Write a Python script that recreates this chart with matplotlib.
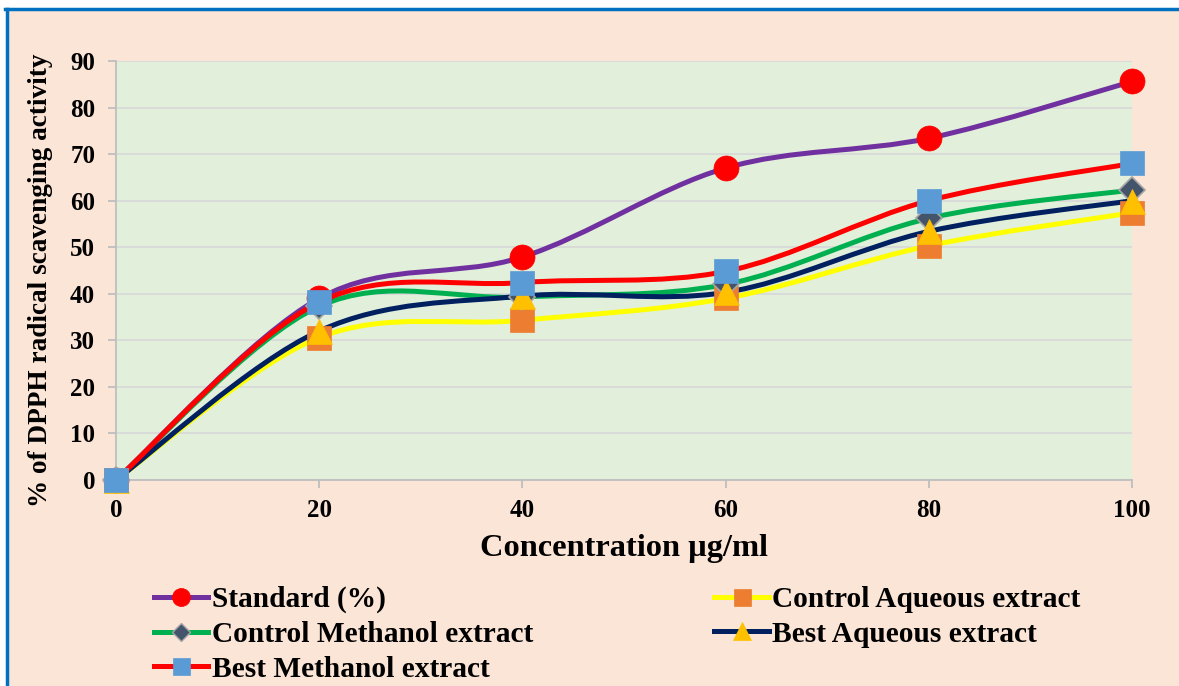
import matplotlib
matplotlib.use("Agg")
import matplotlib.pyplot as plt
from matplotlib.path import Path
from matplotlib.patches import PathPatch, Rectangle
from matplotlib.lines import Line2D
import numpy as np

concentration = [0, 20, 40, 60, 80, 100]
standard = [0, 39.0, 47.9, 67.0, 73.4, 85.6]
control_aqueous = [0, 30.6, 34.3, 39.0, 50.3, 57.4]
control_methanol = [0, 37.3, 39.3, 42.0, 56.2, 62.3]
best_aqueous = [0, 32.0, 39.5, 40.3, 53.4, 60.0]
best_methanol = [0, 38.2, 42.4, 44.8, 60.0, 68.0]

series_names = ["Standard (%)", "Control Aqueous extract", "Control Methanol extract",
                "Best Aqueous extract", "Best Methanol extract"]
series_values = [standard, control_aqueous, control_methanol, best_aqueous, best_methanol]

line_colors = ["#7030A0", "#FFFF00", "#00B050", "#002060", "#FF0000"]
marker_styles = ["o", "s", "D", "^", "s"]
marker_faces = ["#FF0000", "#ED7D31", "#44546A", "#FFC000", "#5B9BD5"]
marker_edges = ["#FF0000", "#ED7D31", "#A5A5A5", "#FFC000", "#5B9BD5"]
marker_sizes = [18, 17, 13, 18, 17]

FONT = "Liberation Serif"

fig = plt.figure(figsize=(11.79, 6.86), dpi=100)
fig.patch.set_facecolor("white")
W, H = 1179, 686

# background panel with blue border (left and top)
fig.patches.append(Rectangle((8 / W, 0), 1, 1 - 10 / H, transform=fig.transFigure,
                             facecolor="#FBE5D6", edgecolor="none", zorder=-5))
fig.lines.append(Line2D([6.5 / W, 6.5 / W], [0, 1 - 8.5 / H], transform=fig.transFigure,
                        color="#0070C0", lw=2.5, zorder=-4))
fig.lines.append(Line2D([5.3 / W, 1], [1 - 8.5 / H, 1 - 8.5 / H], transform=fig.transFigure,
                        color="#0070C0", lw=2.5, zorder=-4))

left, right, top, bottom = 116, 1132, 61, 480
ax = fig.add_axes([left / W, 1 - bottom / H, (right - left) / W, (bottom - top) / H])
ax.set_zorder(1)
ax.set_facecolor("#E2EFDA")
ax.set_xlim(0, 100)
ax.set_ylim(0, 90)
ax.set_xticks(concentration)
ax.set_yticks(np.arange(0, 91, 10))
ax.grid(axis="y", color="#D9D9D9", lw=1.3)
ax.set_axisbelow(True)
for s in ["top", "right"]:
    ax.spines[s].set_visible(False)
for s in ["left", "bottom"]:
    ax.spines[s].set_color("#BFBFBF")
    ax.spines[s].set_linewidth(1.3)
ax.tick_params(axis="both", color="#BFBFBF", length=6, width=1.3, direction="out")
ax.tick_params(axis="y", pad=9)
ax.tick_params(axis="x", pad=8)
for lab in ax.get_xticklabels() + ax.get_yticklabels():
    lab.set_fontfamily(FONT)
    lab.set_fontweight("bold")
    lab.set_fontsize(18)


def smooth_path(xs, ys):
    pts = np.column_stack([xs, ys]).astype(float)
    n = len(pts)
    verts = [pts[0]]
    codes = [Path.MOVETO]
    for i in range(n - 1):
        p0 = pts[i - 1] if i > 0 else pts[i]
        p1 = pts[i]
        p2 = pts[i + 1]
        p3 = pts[i + 2] if i + 2 < n else pts[i + 1]
        c1 = p1 + (p2 - p0) / 6.0
        c2 = p2 - (p3 - p1) / 6.0
        verts += [c1, c2, p2]
        codes += [Path.CURVE4] * 3
    return Path(verts, codes)


for vals, lc in zip(series_values, line_colors):
    patch = PathPatch(smooth_path(concentration, vals), facecolor="none", edgecolor=lc,
                      lw=3.6, transform=ax.transData, zorder=2, capstyle="round")
    patch.set_clip_on(False)
    ax.add_patch(patch)

for k, (vals, m, fc, ec, ms) in enumerate(zip(series_values, marker_styles, marker_faces,
                                              marker_edges, marker_sizes)):
    ax.plot(concentration, vals, linestyle="none", marker=m, markerfacecolor=fc,
            markeredgecolor=ec, markersize=ms, markeredgewidth=1.2 if m == "D" else 0.5,
            zorder=3 + k, clip_on=False)

ax.set_ylabel("% of DPPH radical scavenging activity", fontfamily=FONT, fontweight="bold",
              fontsize=19.6)
ax.yaxis.set_label_coords(-0.062, 1 - (280 - top) / (bottom - top))
ax.set_xlabel("Concentration µg/ml", fontfamily=FONT, fontweight="bold", fontsize=23.3,
              labelpad=8)

handles = []
for lc, m, fc, ec, ms in zip(line_colors, marker_styles, marker_faces, marker_edges, marker_sizes):
    handles.append(Line2D([0], [0], color=lc, lw=3.6, marker=m, markerfacecolor=fc,
                          markeredgecolor=ec, markersize=ms * 0.72,
                          markeredgewidth=1.0 if m == "D" else 0.5))
order = [0, 2, 4, 1, 3]
leg = fig.legend([handles[i] for i in order], [series_names[i] for i in order],
                 loc="upper left", bbox_to_anchor=(154 / W, 1 - 586 / H),
                 bbox_transform=fig.transFigure, ncol=2, frameon=False,
                 prop={"family": FONT, "weight": "bold", "size": 21.2},
                 handlelength=1.85, handletextpad=0.12, columnspacing=6.15,
                 labelspacing=0.26, borderpad=0, borderaxespad=0)

fig.savefig("out.png", dpi=100, facecolor=fig.get_facecolor())
